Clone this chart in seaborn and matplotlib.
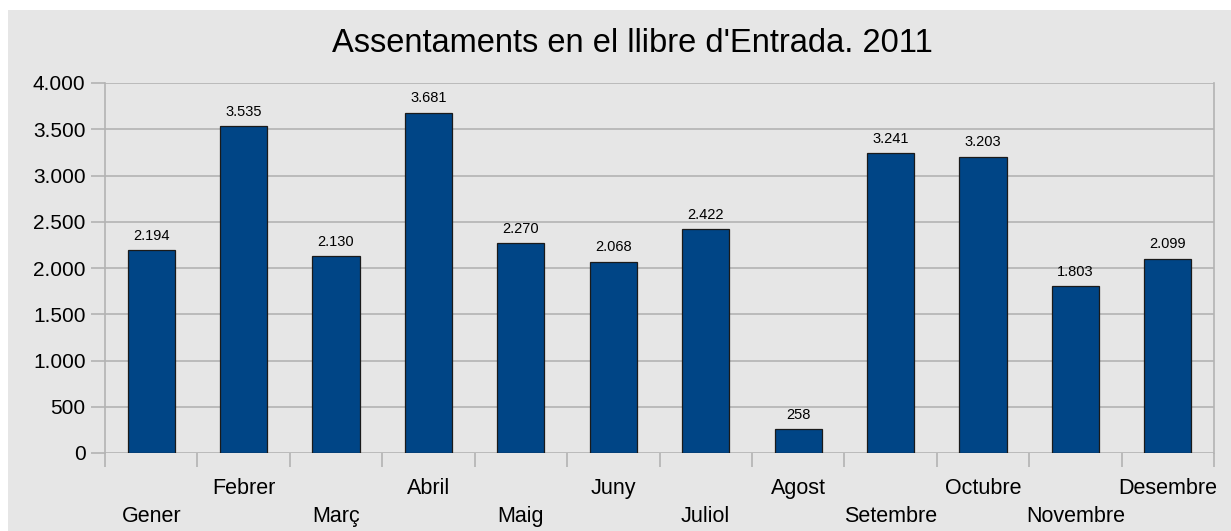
import matplotlib
matplotlib.use("Agg")
import matplotlib.pyplot as plt
from matplotlib.patches import Rectangle
from matplotlib.ticker import FuncFormatter, FixedLocator
import pandas as pd
import seaborn as sns

# dades llegides del gràfic
mesos = ["Gener", "Febrer", "Març", "Abril", "Maig", "Juny",
         "Juliol", "Agost", "Setembre", "Octubre", "Novembre", "Desembre"]
assentaments = [2194, 3535, 2130, 3681, 2270, 2068, 2422, 258, 3241, 3203, 1803, 2099]
y_ticks = [0, 500, 1000, 1500, 2000, 2500, 3000, 3500, 4000]

BG = "#e6e6e6"
BAR = "#004586"
GRID = "#b3b3b3"


def punts(v):
    return f"{int(v):,}".replace(",", ".")


sns.set_theme(style="white")
plt.rcParams["font.family"] = ["Liberation Sans", "DejaVu Sans"]

df = pd.DataFrame({"mes": mesos, "n": assentaments})

fig = plt.figure(figsize=(12.31, 5.31), dpi=100, facecolor="white")
fig.patches.append(Rectangle((8 / 1231, 0), 1, 1 - 10 / 531, transform=fig.transFigure,
                             facecolor=BG, edgecolor="none", zorder=-10))
ax = fig.add_axes([105 / 1231, 1 - 453 / 531, (1214 - 105) / 1231, (453 - 83) / 531])
ax.set_facecolor(BG)

sns.barplot(data=df, x="mes", y="n", ax=ax, color=BAR, saturation=1, width=0.51,
            edgecolor="#1a1a1a", linewidth=0.9, zorder=3)

for i, v in enumerate(assentaments):
    ax.text(i, v + 80, punts(v), ha="center", va="bottom", fontsize=10.5, color="black")

ax.set_ylim(0, 4000)
ax.set_xlim(-0.5, len(mesos) - 0.5)
ax.set_yticks(y_ticks)
ax.yaxis.set_major_formatter(FuncFormatter(lambda v, p: punts(v)))
ax.grid(axis="y", color=GRID, linewidth=1.2, zorder=0)
ax.tick_params(axis="y", left=True, length=10, color=GRID, width=1.2, labelsize=15,
               pad=4, labelcolor="black")

# marques entre categories, etiquetes alternades
ax.xaxis.set_minor_locator(FixedLocator([i - 0.5 for i in range(len(mesos) + 1)]))
ax.tick_params(axis="x", which="minor", bottom=True, length=10, color=GRID, width=1.2)
ax.tick_params(axis="x", which="major", length=0, labelsize=15.5, labelcolor="black")
for i, lab in enumerate(ax.get_xticklabels()):
    lab.set_y(-0.13 if i % 2 == 0 else -0.055)
    lab.set_va("top")
ax.set_xlabel("")
ax.set_ylabel("")

for s in ["top", "bottom"]:
    ax.spines[s].set_visible(False)
for s in ["left", "right"]:
    ax.spines[s].set_color(GRID)
    ax.spines[s].set_linewidth(1.2)

fig.text(632 / 1231, 1 - 43 / 531, "Assentaments en el llibre d'Entrada. 2011",
         ha="center", va="center", fontsize=23.5, color="black")

fig.savefig("out.png", dpi=100, facecolor=fig.get_facecolor())
